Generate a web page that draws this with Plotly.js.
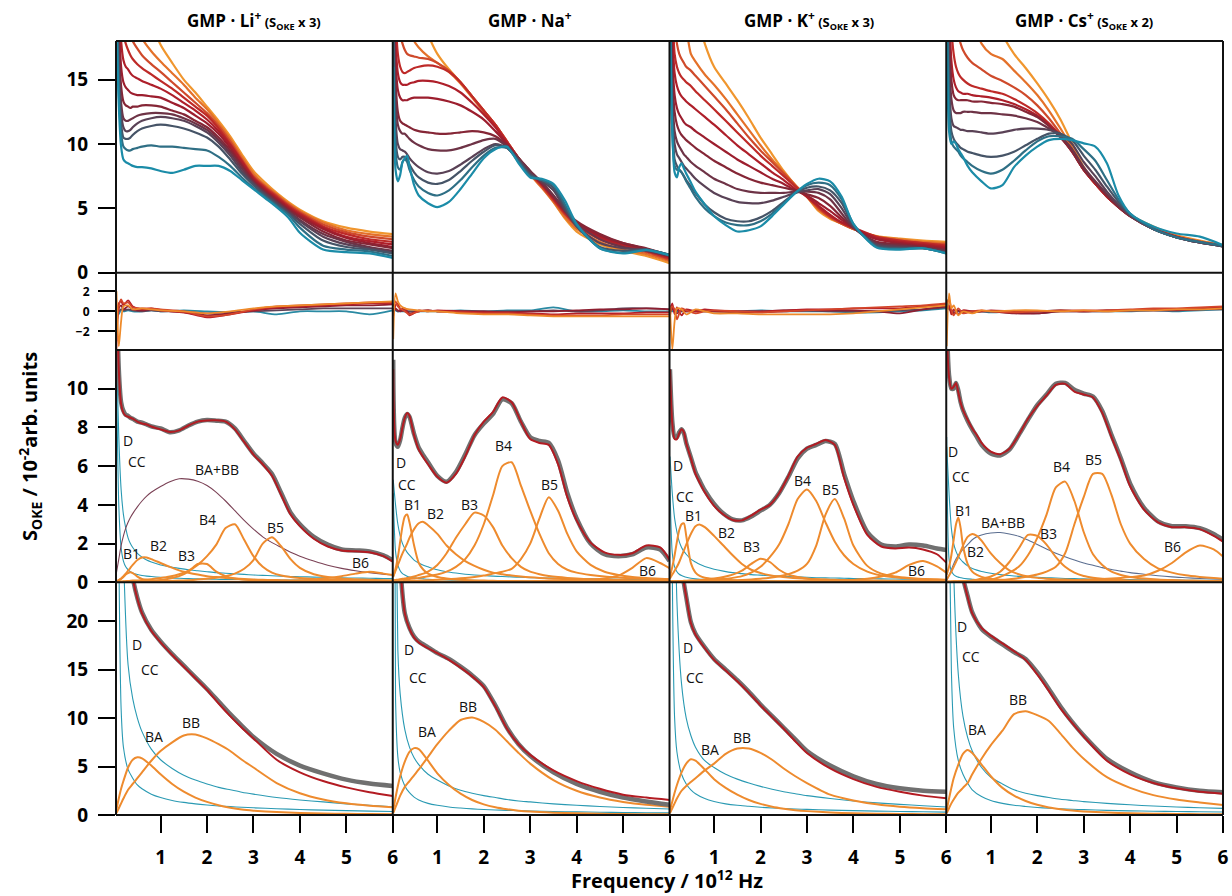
<!DOCTYPE html>
<html><head><meta charset="utf-8">
<script src="https://cdn.plot.ly/plotly-3.0.1.min.js"></script>
<style>html,body{margin:0;padding:0;background:#fff}#chart{width:1232px;height:896px}</style>
</head><body><div id="chart"></div>
<script>
// ---------------- frequency grids (10^12 Hz) ----------------
const FREQ_TOP = [0.05,0.1,0.15,0.2,0.25,0.3,0.35,0.4,0.5,0.6,0.8,1.0,1.25,1.5,1.75,2.0,2.25,2.5,2.75,3.0,3.25,3.5,3.75,4.0,4.5,5.0,5.5,6.0];
const FREQ_RES = [0.05,0.1,0.15,0.2,0.3,0.4,0.6,0.8,1.0,1.5,2.0,2.5,3.0,3.5,4.0,4.5,5.0,5.5,6.0];
const FREQ_FIT = [0.05,0.1,0.15,0.2,0.25,0.3,0.35,0.4,0.5,0.6,0.7,0.8,1.0,1.2,1.4,1.6,1.8,2.0,2.2,2.4,2.6,2.8,3.0,3.2,3.4,3.6,3.8,4.0,4.3,4.6,4.9,5.2,5.5,5.8,6.0];
const FREQ_LOW = [0.05,0.1,0.15,0.2,0.3,0.4,0.5,0.6,0.8,1.0,1.25,1.5,1.75,2.0,2.25,2.5,2.75,3.0,3.5,4.0,4.5,5.0,5.5,6.0];

const PANEL_TITLES = [
  "GMP · Li<sup>+</sup><span style='font-size:13px'> (S<sub>OKE</sub> x 3)</span>",
  "GMP · Na<sup>+</sup>",
  "GMP · K<sup>+</sup><span style='font-size:13px'> (S<sub>OKE</sub> x 3)</span>",
  "GMP · Cs<sup>+</sup><span style='font-size:13px'> (S<sub>OKE</sub> x 2)</span>"
];
const X_TICKS = [1,2,3,4,5,6];
const Y_TICKS_TOP = [0,5,10,15];
const Y_TICKS_RES = [-2,0,2];
const Y_TICKS_FIT = [0,2,4,6,8,10];
const Y_TICKS_LOW = [0,5,10,15,20];

// ---------------- row 1: spectra series (orange -> teal) ----------------
const TOP_LI = [
[40,36,33,30,29,28,27,26,24,22,19.6,17.7,16.3,15.0,14.0,12.9,11.8,10.6,9.2,7.9,7.0,6.2,5.5,4.9,4.0,3.5,3.2,3.0],
[36,32,28,25,23.5,22,21,20.2,19.0,18.2,17.2,16.4,15.5,14.6,13.6,12.7,11.6,10.4,9.0,7.7,6.8,6.1,5.4,4.8,3.9,3.3,3.0,2.8],
[32,28,24,21,20,19.2,18.5,18.0,17.4,16.9,16.2,15.6,14.8,14.0,13.2,12.4,11.4,10.2,8.8,7.5,6.7,6.0,5.3,4.7,3.75,3.15,2.8,2.6],
[30,25,21,18.5,17.8,17.3,16.9,16.6,16.2,15.9,15.4,14.9,14.3,13.6,12.9,12.2,11.2,10.0,8.7,7.4,6.6,5.9,5.2,4.6,3.6,3.0,2.6,2.4],
[28,22,18,16.5,16.0,15.8,15.5,15.3,15.1,14.9,14.6,14.3,13.8,13.2,12.6,11.9,11.0,9.9,8.6,7.3,6.5,5.8,5.1,4.5,3.5,2.8,2.45,2.2],
[26,20,16,14.8,14.4,14.2,14.0,13.9,13.8,13.8,13.7,13.6,13.2,12.8,12.2,11.6,10.8,9.7,8.4,7.2,6.4,5.7,5.0,4.4,3.4,2.7,2.3,2.0],
[25,18,14.5,13.3,13.0,12.9,12.8,12.9,12.9,13.0,13.0,12.9,12.6,12.3,11.8,11.3,10.5,9.5,8.3,7.1,6.3,5.6,4.9,4.3,3.2,2.5,2.2,1.9],
[24,17,13.2,12.0,11.8,11.8,11.9,12.0,12.2,12.3,12.4,12.4,12.3,12.0,11.6,11.1,10.3,9.3,8.1,7.0,6.2,5.5,4.8,4.1,3.0,2.4,2.0,1.7],
[23,16,12.4,11.3,11.0,11.0,11.1,11.3,11.6,11.8,12.0,12.1,12.0,11.8,11.4,10.9,10.1,9.1,7.9,6.9,6.1,5.4,4.7,4.0,2.8,2.2,1.9,1.6],
[22,15,11.6,10.5,10.4,10.4,10.5,10.7,11.0,11.2,11.4,11.5,11.4,11.2,10.9,10.5,9.8,8.8,7.7,6.8,6.0,5.3,4.6,3.8,2.5,2.0,1.8,1.5],
[21,14,10.8,9.8,9.6,9.5,9.5,9.6,9.7,9.8,9.9,9.8,9.8,9.7,9.6,9.5,9.0,8.3,7.4,6.6,5.9,5.2,4.5,3.5,2.1,1.8,1.65,1.3],
[20,13,9.8,8.8,8.6,8.5,8.4,8.3,8.2,8.2,8.1,7.9,7.75,8.0,8.3,8.3,8.3,7.9,7.2,6.5,5.8,5.1,4.3,3.1,1.8,1.6,1.5,1.15]
];
const TOP_NA = [
[40,36,33,30,28,26.5,25,24,22,20.5,18.5,17.0,15.8,14.8,13.7,12.6,11.5,10.2,8.9,7.7,6.7,5.5,4.2,3.2,2.2,1.7,1.3,0.75],
[36,30,26,23,21.5,20.5,20,19.5,18.0,17.5,16.8,16.3,15.6,14.7,13.6,12.5,11.4,10.1,8.8,7.6,6.6,5.5,4.3,3.4,2.4,1.8,1.45,0.9],
[30,24,20,18.5,17.8,17.3,17.0,16.9,16.8,16.7,16.6,16.3,15.7,14.8,13.7,12.6,11.5,10.2,8.9,7.7,6.7,5.6,4.5,3.6,2.6,2.0,1.6,1.0],
[28,20,17,16.0,15.6,15.5,15.6,15.7,15.9,16.0,16.1,16.0,15.6,14.8,13.7,12.6,11.5,10.2,8.9,7.7,6.8,5.7,4.6,3.7,2.7,2.1,1.7,1.1],
[26,18,15.5,14.8,14.6,14.6,14.6,14.7,14.8,14.9,14.9,14.8,14.5,14.0,13.2,12.3,11.3,10.1,8.9,7.8,6.9,5.8,4.7,3.8,2.8,2.2,1.8,1.2],
[25,16.5,14.2,13.6,13.4,13.4,13.4,13.5,13.6,13.6,13.6,13.5,13.3,13.0,12.5,11.9,11.0,10.0,8.9,7.8,6.9,5.9,4.8,3.9,2.9,2.3,1.85,1.3],
[24,15,12.5,11.8,11.6,11.5,11.4,11.3,11.1,11.0,10.9,10.8,10.8,10.9,11.0,10.9,10.6,9.9,8.9,7.9,7.0,6.0,4.9,4.0,3.0,2.3,1.9,1.35],
[23,14,11.5,11.0,10.8,10.8,10.6,10.4,10.1,9.9,9.6,9.5,9.5,9.7,10.0,10.3,10.4,9.8,8.9,7.9,7.0,6.0,4.8,3.8,2.6,2.0,1.7,1.3],
[22,12,10.0,9.6,9.5,9.4,9.2,8.9,8.5,8.2,7.8,7.7,7.9,8.4,9.0,9.6,10.0,9.7,8.8,7.7,7.1,6.4,4.9,3.6,2.3,1.9,1.8,1.4],
[20,10.5,9.0,8.8,9.0,9.0,8.8,8.4,7.8,7.4,7.0,6.9,7.2,7.9,8.7,9.4,9.9,9.7,8.7,7.6,7.2,6.6,5.1,3.6,2.0,1.7,1.8,1.4],
[18,9.5,8.2,8.0,8.6,8.8,8.6,8.0,7.2,6.7,6.2,6.0,6.4,7.2,8.2,9.1,9.7,9.7,8.6,7.5,7.2,6.8,5.3,3.7,1.9,1.55,1.8,1.4],
[16,8.0,7.1,7.6,8.6,8.9,9.1,8.3,6.8,6.0,5.4,5.1,5.5,6.5,7.7,8.9,9.6,9.8,8.5,7.4,7.3,6.9,5.6,3.8,1.9,1.5,1.75,1.35]
];
const TOP_K = [
[40,36,33,30,28.5,27,25.5,24.5,22.5,20.5,17.8,16.0,14.7,13.4,12.0,10.5,9.2,7.9,6.8,5.9,4.8,4.2,3.8,3.4,2.85,2.65,2.5,2.4],
[36,30,26,23,21.5,20.5,19.7,19.0,17.0,16.4,15.4,14.6,13.5,12.3,11.1,9.9,8.8,7.8,6.8,5.9,4.9,4.3,3.8,3.4,2.8,2.6,2.4,2.3],
[32,24,19.5,17.8,17.0,16.6,16.3,16.0,15.7,15.3,14.5,13.7,12.7,11.6,10.5,9.5,8.6,7.7,6.8,5.9,5.0,4.3,3.8,3.4,2.8,2.5,2.3,2.2],
[30,21,17,16,15.5,15.2,15.0,14.8,14.5,14.1,13.4,12.7,11.8,10.9,10.0,9.1,8.3,7.5,6.7,5.9,5.1,4.4,3.9,3.5,2.8,2.5,2.3,2.1],
[28,19,15.5,14.5,14.0,13.7,13.5,13.3,13.0,12.7,12.1,11.5,10.7,9.9,9.2,8.5,7.8,7.2,6.5,5.9,5.2,4.5,3.9,3.5,2.7,2.4,2.2,2.0],
[26,17,13.8,12.8,12.3,12.0,11.7,11.5,11.3,11.0,10.5,10.0,9.4,8.8,8.3,7.8,7.3,6.9,6.4,6.0,5.4,4.8,4.1,3.5,2.6,2.3,2.1,1.9],
[25,15.5,12.5,11.5,11.0,10.7,10.5,10.3,10.0,9.7,9.2,8.7,8.2,7.7,7.3,7.0,6.8,6.6,6.4,6.1,5.8,5.2,4.3,3.5,2.4,2.2,2.0,1.8],
[24,14,11,10.2,9.8,9.5,9.2,9.0,8.6,8.3,7.8,7.3,6.9,6.5,6.3,6.2,6.2,6.2,6.3,6.3,6.2,5.7,4.6,3.5,2.3,2.1,1.95,1.7],
[23,13,10,9.2,8.9,8.6,8.3,8.1,7.7,7.3,6.7,6.2,5.8,5.5,5.4,5.4,5.6,5.9,6.2,6.4,6.5,6.1,5.0,3.6,2.2,2.0,1.9,1.6],
[22,12,8.8,8.3,8.0,7.8,7.5,7.2,6.7,6.2,5.3,4.7,4.2,4.0,4.0,4.3,4.8,5.5,6.2,6.6,6.7,6.4,5.4,3.7,2.1,1.9,1.9,1.55],
[21,11,8.3,8.0,8.0,7.8,7.5,7.1,6.5,5.9,5.0,4.4,3.9,3.7,3.7,4.0,4.6,5.4,6.2,6.8,7.0,6.8,5.7,3.8,2.0,1.85,1.9,1.5],
[20,11,7.8,7.4,8.2,8.5,8.1,7.7,7.0,6.3,5.3,4.4,3.7,3.2,3.3,3.6,4.4,5.3,6.2,6.9,7.3,7.1,5.9,3.8,1.95,1.8,1.9,1.5]
];
const TOP_CS = [
[40,38,36,34,32.5,31,30,29,27,25.5,23,20.5,18.5,17.0,15.9,14.7,13.4,11.9,10.05,8.2,6.9,6.0,5.25,4.5,3.6,2.9,2.5,2.15],
[36,33,30,28,26.5,25,24,23,21,19.8,17.8,17.0,16.6,15.7,14.8,13.8,12.6,11.2,9.7,8.1,6.9,6.0,5.2,4.5,3.5,2.85,2.45,2.15],
[32,28,24,21,19.5,18.5,17.8,17.3,16.7,16.3,15.8,15.3,14.9,14.4,13.8,13.0,12.0,10.8,9.5,8.0,6.9,5.9,5.1,4.4,3.5,2.8,2.4,2.1],
[30,24,19,17.0,16.0,15.5,15.2,15.0,14.7,14.5,14.3,14.1,13.9,13.5,13.0,12.4,11.6,10.6,9.4,8.0,6.9,5.9,5.1,4.4,3.4,2.8,2.4,2.1],
[28,21,16.5,15.0,14.4,14.1,14.0,13.9,13.9,13.8,13.7,13.6,13.4,13.1,12.7,12.2,11.5,10.6,9.4,8.0,6.9,5.9,5.1,4.4,3.4,2.8,2.35,2.1],
[27,19,15,13.8,13.5,13.4,13.4,13.4,13.4,13.3,13.3,13.2,13.1,12.9,12.5,12.1,11.4,10.5,9.4,8.0,7.0,6.0,5.1,4.4,3.4,2.75,2.35,2.05],
[26,17,13.5,12.6,12.4,12.4,12.4,12.5,12.5,12.5,12.4,12.4,12.3,12.2,12.0,11.7,11.2,10.6,9.6,8.2,7.1,6.1,5.2,4.4,3.4,2.75,2.35,2.05],
[25,15,12,11.4,11.3,11.2,11.1,11.1,11.0,11.0,10.9,10.8,10.9,11.1,11.2,11.2,11.1,10.8,10.0,8.6,7.5,6.3,5.3,4.5,3.4,2.75,2.35,2.05],
[24,14,11,10.4,10.1,9.9,9.7,9.6,9.4,9.3,9.1,9.0,9.1,9.4,9.9,10.4,10.8,10.8,10.3,9.1,8.0,6.7,5.5,4.5,3.4,2.75,2.35,2.05],
[23,13,10.2,9.8,9.6,9.4,9.1,8.9,8.6,8.3,7.9,7.7,8.0,8.7,9.5,10.2,10.6,10.6,10.4,9.6,8.7,7.2,5.7,4.6,3.4,2.75,2.4,2.1],
[22,11,10.0,10.2,10.0,9.6,9.3,9.0,8.3,7.8,7.1,6.55,6.8,8.2,9.1,9.8,10.3,10.4,10.3,10.05,9.8,8.5,6.0,4.6,3.6,3.05,2.8,2.15]
];

// ---------------- row 2: fit residuals ----------------
const RES_LI = [
[2.0,-3.5,-1.0,0.5,0.6,0.2,0.3,0.2,0.1,0.0,-0.2,0.0,0.3,0.5,0.6,0.7,0.8,0.9,1.0],
[-3.8,0.5,1.2,0.8,0.9,0.4,0.3,0.3,0.2,0.0,-0.5,-0.3,0.2,0.5,0.6,0.7,0.8,0.9,0.9],
[-3.0,0.8,1.0,0.6,1.1,0.5,0.2,0.3,0.1,-0.1,-0.6,-0.3,0.1,0.4,0.5,0.6,0.7,0.8,0.8],
[-1.5,0.3,0.6,0.2,0.5,0.2,0.1,0.2,0.1,-0.1,-0.4,-0.2,0.1,0.3,0.4,0.5,0.6,0.6,0.7],
[-0.5,0.0,0.2,0.1,0.2,0.1,0.0,0.1,0.0,0.0,-0.2,-0.1,0.0,0.1,0.2,0.3,0.3,0.3,0.3],
[0.3,-0.3,0.2,0.0,0.1,0.0,0.0,0.1,0.0,0.1,0.0,-0.1,0.0,-0.3,0.0,0.0,0.0,-0.3,0.1]
];
const RES_NA = [
[-2.8,1.8,1.0,0.6,0.3,0.2,0.1,0.0,0.0,-0.2,-0.3,-0.3,-0.4,-0.5,-0.5,-0.5,-0.5,-0.5,-0.5],
[0.5,1.0,0.5,0.3,0.0,-0.3,0.0,0.1,0.0,-0.1,-0.2,-0.2,-0.3,-0.4,-0.4,-0.4,-0.3,-0.3,-0.3],
[-0.5,0.6,0.8,0.2,0.3,-0.4,0.1,0.0,0.1,0.0,-0.1,-0.1,-0.2,-0.3,-0.2,-0.2,-0.2,-0.1,-0.1],
[0.2,0.3,0.1,0.0,0.2,-0.2,0.0,0.1,0.0,0.0,0.0,-0.1,0.0,0.0,0.1,0.2,0.2,0.3,0.2],
[0.0,0.2,0.0,0.1,0.0,0.0,0.0,0.1,0.0,0.0,0.0,0.0,0.0,0.1,0.0,0.1,0.3,0.3,0.2],
[0.1,0.1,0.0,0.0,0.0,0.0,0.0,0.0,0.0,0.1,0.0,0.1,0.1,0.4,0.0,0.0,0.1,0.0,0.0]
];
const RES_K = [
[0.5,-3.8,-1.0,0.3,0.2,-0.3,0.2,0.0,-0.2,-0.2,-0.3,-0.3,-0.3,-0.3,-0.2,0.0,0.2,0.4,0.6],
[-0.5,0.5,0.2,-0.8,0.3,0.1,-0.2,0.0,0.1,0.0,-0.1,0.0,0.1,0.2,0.3,0.4,0.5,0.6,0.8],
[0.2,0.8,-0.3,0.4,-0.4,0.2,0.0,0.2,0.1,0.0,0.0,0.1,0.2,0.2,0.3,0.3,0.3,0.5,0.7],
[0.0,0.4,0.0,-0.2,0.1,0.0,0.1,0.0,0.0,-0.1,-0.1,0.0,0.1,0.1,0.1,0.0,-0.2,0.2,0.5],
[0.1,0.2,0.0,0.1,0.0,0.0,0.0,0.1,0.0,0.0,0.0,0.1,0.1,0.0,0.0,0.0,0.1,0.2,0.4],
[0.1,0.0,0.1,0.0,0.0,0.1,0.0,0.0,0.0,0.0,0.1,0.0,0.0,0.0,-0.1,-0.1,0.0,0.1,0.3]
];
const RES_CS = [
[-3.5,1.8,0.3,0.6,-0.4,0.0,-0.2,0.1,0.0,0.1,0.1,0.0,0.1,0.0,0.1,0.1,0.2,0.2,0.3],
[0.8,1.2,0.2,-0.4,0.3,-0.2,0.0,0.1,0.0,-0.1,0.0,0.1,0.1,0.1,0.2,0.3,0.3,0.4,0.5],
[0.2,0.6,-0.3,0.2,-0.3,0.1,0.0,0.0,0.1,0.0,0.0,0.1,0.0,0.1,0.1,0.2,0.2,0.3,0.4],
[0.3,0.4,0.0,-0.2,0.1,-0.1,0.0,0.0,0.0,-0.2,-0.2,0.0,0.0,0.0,0.1,0.1,0.1,0.2,0.3],
[0.5,0.3,0.1,-0.1,0.0,0.0,-0.1,0.0,0.0,-0.1,-0.2,0.0,0.0,0.1,0.1,0.1,0.1,0.2,0.2],
[1.2,0.2,0.1,-0.2,0.0,0.0,0.0,0.0,-0.1,0.0,0.0,0.1,0.0,0.0,0.0,0.1,0.0,0.1,0.2]
];

// ---------------- row 3: reduced spectra fits ----------------
const LI_DATA = [16,11,9.3,8.85,8.65,8.6,8.5,8.45,8.3,8.25,8.15,8.05,7.95,7.75,7.85,8.1,8.3,8.38,8.35,8.3,7.95,7.3,6.65,6.15,5.6,4.6,3.6,3.0,2.35,1.95,1.7,1.65,1.6,1.4,1.15];
const LI_FIT = [16,11,9.2,8.75,8.6,8.55,8.5,8.45,8.3,8.2,8.15,8.05,7.9,7.77,7.85,8.1,8.3,8.36,8.37,8.3,7.9,7.25,6.6,6.1,5.5,4.5,3.5,2.9,2.25,1.85,1.65,1.6,1.55,1.35,1.07];
const LI_D = [11,4.0,1.8,1.1,0.8,0.65,0.55,0.48,0.4,0.35,0.32,0.3,0.26,0.23,0.21,0.19,0.18,0.17,0.16,0.15,0.15,0.14,0.14,0.13,0.13,0.12,0.12,0.12,0.11,0.11,0.11,0.1,0.1,0.1,0.1];
const LI_CC = [12,7.5,4.8,3.5,2.8,2.3,2.0,1.8,1.5,1.3,1.15,1.05,0.9,0.8,0.72,0.65,0.6,0.55,0.5,0.47,0.44,0.41,0.38,0.36,0.34,0.32,0.3,0.29,0.27,0.25,0.23,0.22,0.21,0.2,0.19];
const LI_BAB = [0.5,1.2,1.9,2.4,2.8,3.1,3.35,3.55,3.9,4.2,4.45,4.65,4.95,5.2,5.35,5.33,5.22,5.0,4.65,4.2,3.7,3.2,2.75,2.35,2.05,1.8,1.55,1.35,1.1,0.88,0.72,0.6,0.5,0.42,0.38];
const LI_B1 = [0.05,0.1,0.18,0.28,0.4,0.48,0.52,0.48,0.3,0.18,0.12,0.08,0.05,0.04,0.03,0.03,0.02,0.02,0.02,0.02,0.02,0.01,0.01,0.01,0.01,0.01,0.01,0.01,0.01,0.01,0.01,0.01,0.01,0.01,0.01];
const LI_B2 = [0.05,0.12,0.2,0.32,0.45,0.6,0.75,0.9,1.15,1.28,1.28,1.2,1.0,0.8,0.62,0.5,0.4,0.32,0.27,0.23,0.2,0.17,0.15,0.13,0.12,0.11,0.1,0.09,0.08,0.07,0.06,0.06,0.05,0.05,0.05];
const LI_B3 = [0.02,0.02,0.03,0.03,0.04,0.04,0.05,0.05,0.06,0.07,0.08,0.09,0.12,0.2,0.32,0.55,0.95,0.95,0.55,0.32,0.2,0.14,0.1,0.08,0.07,0.06,0.05,0.05,0.04,0.04,0.03,0.03,0.03,0.03,0.03];
const LI_B4 = [0.02,0.03,0.04,0.05,0.06,0.07,0.08,0.09,0.1,0.12,0.14,0.16,0.22,0.3,0.42,0.6,0.9,1.35,1.95,2.8,3.0,2.2,1.35,0.8,0.5,0.35,0.27,0.22,0.17,0.14,0.12,0.1,0.09,0.08,0.07];
const LI_B5 = [0.01,0.01,0.02,0.02,0.02,0.02,0.03,0.03,0.03,0.04,0.04,0.05,0.06,0.07,0.09,0.11,0.14,0.18,0.24,0.32,0.45,0.7,1.15,2.0,2.33,1.85,1.2,0.75,0.42,0.28,0.2,0.16,0.13,0.11,0.1];
const LI_B6 = [0.01,0.01,0.01,0.01,0.01,0.01,0.01,0.01,0.01,0.01,0.01,0.01,0.02,0.02,0.02,0.02,0.02,0.03,0.03,0.03,0.03,0.04,0.04,0.05,0.05,0.06,0.07,0.09,0.15,0.22,0.32,0.45,0.55,0.45,0.38];

const NA_DATA = [11.5,7.2,7.0,7.35,8.0,8.5,8.7,8.55,7.65,6.95,6.55,6.2,5.5,5.2,5.7,6.6,7.6,8.2,8.7,9.45,9.25,8.3,7.5,7.3,7.2,6.3,4.6,3.3,2.0,1.45,1.35,1.45,1.8,1.7,1.1];
const NA_FIT = [11,7.3,7.1,7.4,8.0,8.5,8.75,8.6,7.6,6.85,6.45,6.1,5.45,5.15,5.6,6.5,7.6,8.3,8.8,9.55,9.3,8.3,7.4,7.2,7.1,6.1,4.4,3.2,2.05,1.55,1.42,1.5,1.9,1.8,1.16];
const NA_D = [4.6,1.6,0.9,0.6,0.45,0.38,0.32,0.28,0.23,0.2,0.18,0.16,0.14,0.12,0.11,0.1,0.1,0.09,0.09,0.08,0.08,0.08,0.07,0.07,0.07,0.07,0.06,0.06,0.06,0.06,0.06,0.05,0.05,0.05,0.05];
const NA_CC = [5.3,4.0,3.0,2.4,2.0,1.75,1.55,1.4,1.15,1.0,0.88,0.8,0.65,0.55,0.48,0.42,0.38,0.35,0.32,0.3,0.28,0.26,0.24,0.23,0.22,0.21,0.2,0.19,0.18,0.17,0.16,0.15,0.14,0.14,0.13];
const NA_B1 = [0.3,0.7,1.3,2.1,2.9,3.4,3.5,3.1,1.9,1.0,0.65,0.45,0.28,0.2,0.15,0.12,0.1,0.09,0.08,0.07,0.07,0.06,0.06,0.05,0.05,0.05,0.05,0.04,0.04,0.04,0.04,0.04,0.03,0.03,0.03];
const NA_B2 = [0.3,0.6,0.9,1.2,1.5,1.75,2.0,2.3,2.75,3.05,3.12,2.95,2.5,1.9,1.45,1.1,0.85,0.65,0.5,0.42,0.35,0.3,0.26,0.23,0.2,0.18,0.16,0.15,0.13,0.12,0.11,0.1,0.09,0.08,0.08];
const NA_B3 = [0.1,0.12,0.14,0.16,0.18,0.2,0.22,0.25,0.3,0.38,0.45,0.55,0.9,1.5,2.3,3.0,3.6,3.45,2.85,1.9,1.25,0.8,0.55,0.42,0.33,0.27,0.23,0.2,0.16,0.14,0.12,0.1,0.09,0.08,0.08];
const NA_B4 = [0.1,0.11,0.12,0.13,0.14,0.15,0.16,0.17,0.2,0.23,0.27,0.31,0.4,0.55,0.8,1.2,1.9,3.0,4.5,6.0,6.2,5.0,3.7,2.5,1.5,0.95,0.65,0.5,0.38,0.3,0.25,0.21,0.18,0.16,0.15];
const NA_B5 = [0.05,0.05,0.06,0.06,0.06,0.07,0.07,0.07,0.08,0.09,0.1,0.11,0.13,0.16,0.19,0.23,0.28,0.35,0.45,0.55,0.7,1.2,2.0,3.3,4.4,3.7,2.5,1.6,0.9,0.55,0.38,0.28,0.22,0.18,0.16];
const NA_B6 = [0.02,0.02,0.02,0.02,0.02,0.02,0.02,0.02,0.02,0.02,0.02,0.02,0.03,0.03,0.03,0.03,0.04,0.04,0.04,0.05,0.05,0.06,0.06,0.07,0.08,0.09,0.1,0.11,0.14,0.2,0.35,0.75,1.25,1.0,0.73];

const K_DATA = [11,8.3,7.5,7.5,7.75,7.9,7.7,7.2,6.45,5.7,5.2,4.75,4.05,3.55,3.25,3.2,3.4,3.7,4.0,4.6,5.45,6.4,6.9,7.1,7.3,7.15,5.6,4.2,2.6,1.95,1.85,1.95,1.9,1.75,1.67];
const K_FIT = [11,8.2,7.4,7.4,7.7,7.9,7.75,7.2,6.4,5.6,5.1,4.65,3.95,3.5,3.22,3.2,3.45,3.75,4.0,4.6,5.5,6.5,6.95,7.15,7.35,7.1,5.4,4.0,2.45,1.85,1.75,1.8,1.7,1.45,1.02];
const K_D = [5.0,1.5,0.8,0.55,0.42,0.35,0.3,0.26,0.21,0.18,0.16,0.15,0.13,0.11,0.1,0.09,0.09,0.08,0.08,0.07,0.07,0.07,0.06,0.06,0.06,0.06,0.06,0.05,0.05,0.05,0.05,0.05,0.05,0.04,0.04];
const K_CC = [6.5,4.6,3.3,2.6,2.1,1.8,1.6,1.45,1.2,1.05,0.92,0.82,0.68,0.58,0.5,0.45,0.4,0.37,0.34,0.32,0.3,0.28,0.26,0.24,0.23,0.22,0.21,0.2,0.19,0.18,0.17,0.16,0.15,0.14,0.14];
const K_B1 = [0.3,0.8,1.4,2.1,2.7,3.0,3.05,2.4,1.0,0.5,0.32,0.24,0.17,0.13,0.11,0.09,0.08,0.07,0.06,0.06,0.05,0.05,0.05,0.04,0.04,0.04,0.04,0.04,0.03,0.03,0.03,0.03,0.03,0.03,0.03];
const K_B2 = [0.2,0.4,0.6,0.8,1.05,1.35,1.65,1.95,2.5,2.9,2.98,2.85,2.4,1.9,1.4,0.95,0.65,0.48,0.37,0.3,0.25,0.21,0.18,0.16,0.14,0.13,0.12,0.11,0.1,0.09,0.08,0.07,0.07,0.06,0.06];
const K_B3 = [0.05,0.05,0.06,0.06,0.07,0.07,0.08,0.08,0.09,0.1,0.12,0.14,0.2,0.28,0.4,0.6,0.95,1.22,1.05,0.65,0.4,0.28,0.2,0.16,0.13,0.11,0.1,0.09,0.08,0.07,0.06,0.06,0.05,0.05,0.05];
const K_B4 = [0.05,0.05,0.05,0.06,0.06,0.06,0.07,0.07,0.08,0.09,0.1,0.11,0.14,0.18,0.23,0.32,0.5,0.8,1.3,1.95,3.0,4.3,4.8,4.2,3.1,2.1,1.4,0.95,0.55,0.35,0.26,0.2,0.17,0.14,0.13];
const K_B5 = [0.03,0.03,0.03,0.03,0.03,0.04,0.04,0.04,0.04,0.05,0.05,0.06,0.07,0.08,0.1,0.12,0.15,0.19,0.24,0.31,0.42,0.6,0.95,1.9,3.5,4.3,3.3,1.9,0.85,0.45,0.3,0.22,0.17,0.14,0.12];
const K_B6 = [0.02,0.02,0.02,0.02,0.02,0.02,0.02,0.02,0.02,0.02,0.02,0.02,0.03,0.03,0.03,0.03,0.04,0.04,0.04,0.05,0.05,0.06,0.06,0.07,0.08,0.09,0.1,0.12,0.18,0.3,0.5,0.9,1.1,0.82,0.5];

const CS_DATA = [13.5,10.7,10.0,10.0,10.3,9.9,9.3,8.9,8.35,7.9,7.5,7.1,6.65,6.55,6.85,7.6,8.4,9.15,9.7,10.25,10.3,9.95,9.75,9.6,8.85,7.6,6.4,5.1,3.85,3.15,2.9,2.9,2.8,2.5,2.2];
const CS_FIT = [13,10.6,10.0,10.1,10.3,9.8,9.27,8.9,8.4,7.95,7.6,7.2,6.75,6.62,6.9,7.6,8.45,9.1,9.65,10.2,10.25,9.85,9.7,9.55,8.75,7.5,6.3,4.96,3.75,3.1,2.85,2.85,2.75,2.4,2.1];
const CS_D = [7.5,1.2,0.6,0.4,0.32,0.27,0.24,0.21,0.18,0.16,0.14,0.13,0.11,0.1,0.09,0.08,0.08,0.07,0.07,0.06,0.06,0.06,0.06,0.05,0.05,0.05,0.05,0.05,0.05,0.04,0.04,0.04,0.04,0.04,0.04];
const CS_CC = [7.0,4.6,2.8,2.0,1.6,1.35,1.18,1.05,0.85,0.72,0.63,0.56,0.47,0.4,0.35,0.31,0.28,0.26,0.24,0.22,0.2,0.19,0.18,0.17,0.16,0.15,0.14,0.14,0.13,0.12,0.12,0.11,0.11,0.1,0.1];
const CS_BAB = [0.1,0.35,0.65,0.95,1.2,1.4,1.55,1.7,1.95,2.2,2.35,2.45,2.55,2.57,2.5,2.38,2.18,1.95,1.72,1.5,1.32,1.15,1.0,0.88,0.76,0.66,0.58,0.5,0.42,0.34,0.28,0.24,0.2,0.17,0.16];
const CS_B1 = [0.4,0.8,1.4,2.2,3.0,3.35,2.8,1.9,0.95,0.55,0.38,0.28,0.18,0.13,0.1,0.08,0.07,0.06,0.05,0.05,0.05,0.04,0.04,0.04,0.04,0.03,0.03,0.03,0.03,0.03,0.03,0.03,0.03,0.03,0.03];
const CS_B2 = [0.15,0.35,0.55,0.8,1.05,1.3,1.6,1.9,2.35,2.5,2.4,2.15,1.5,1.0,0.62,0.42,0.3,0.23,0.19,0.16,0.14,0.12,0.11,0.1,0.09,0.08,0.08,0.07,0.07,0.06,0.06,0.06,0.05,0.05,0.05];
const CS_B3 = [0.03,0.03,0.04,0.04,0.04,0.05,0.05,0.05,0.06,0.11,0.14,0.18,0.3,0.55,1.05,1.75,2.45,2.4,1.95,1.3,0.8,0.5,0.33,0.24,0.18,0.14,0.12,0.1,0.08,0.07,0.06,0.05,0.05,0.04,0.04];
const CS_B4 = [0.04,0.04,0.04,0.05,0.05,0.05,0.06,0.06,0.07,0.08,0.09,0.1,0.13,0.28,0.5,0.8,1.4,2.3,3.5,4.9,5.2,4.2,2.6,1.45,0.9,0.55,0.38,0.28,0.2,0.15,0.12,0.1,0.08,0.07,0.06];
const CS_B5 = [0.03,0.03,0.03,0.04,0.04,0.04,0.04,0.05,0.05,0.06,0.07,0.08,0.1,0.12,0.16,0.22,0.3,0.4,0.55,0.8,1.5,3.0,4.4,5.6,5.6,4.5,3.0,2.0,1.2,0.72,0.5,0.36,0.28,0.22,0.19];
const CS_B6 = [0.02,0.02,0.02,0.02,0.02,0.02,0.02,0.02,0.03,0.03,0.03,0.03,0.04,0.04,0.05,0.05,0.06,0.07,0.08,0.09,0.1,0.11,0.13,0.15,0.17,0.2,0.23,0.27,0.35,0.6,1.0,1.55,1.9,1.7,1.33];

// ---------------- row 4: low-frequency decomposition ----------------
const LI4_DATA = [60,50,42,36,29,24.5,22.4,20.9,19.1,17.9,16.6,15.4,14.2,13.0,11.7,10.4,9.2,8.05,6.3,5.1,4.3,3.65,3.25,3.0];
const LI4_FIT = [60,50,42,36,29,24.5,22.3,20.8,19.0,17.8,16.5,15.3,14.1,12.9,11.5,10.2,9.0,7.9,5.7,4.4,3.5,2.85,2.35,1.97];
const LI4_D = [80,28,11,7.0,4.7,3.8,3.1,2.7,2.15,1.8,1.5,1.3,1.15,1.03,0.93,0.86,0.8,0.74,0.65,0.57,0.5,0.45,0.4,0.36];
const LI4_CC = [80,60,40,27,15.5,12,10.0,8.6,6.8,5.7,4.8,4.1,3.6,3.2,2.85,2.6,2.35,2.15,1.8,1.55,1.35,1.15,1.0,0.85];
const LI4_BA = [0.6,1.7,2.7,3.5,4.9,5.7,5.95,5.85,5.1,4.2,3.2,2.4,1.8,1.35,1.0,0.75,0.56,0.45,0.3,0.2,0.15,0.12,0.1,0.08];
const LI4_BB = [0.2,0.7,1.2,1.7,2.6,3.2,3.8,4.4,5.6,6.6,7.5,8.2,8.3,7.9,7.3,6.6,5.7,4.9,3.3,2.25,1.6,1.2,0.95,0.8];

const NA4_DATA = [60,45,33,26,20.8,19.3,18.4,17.9,17.3,16.7,16.1,15.3,14.4,13.3,11.3,9.0,7.3,6.1,4.4,3.2,2.4,1.8,1.4,1.05];
const NA4_FIT = [60,45,33,26,20.8,19.2,18.3,17.8,17.2,16.7,16.0,15.2,14.3,13.2,11.2,8.9,7.3,6.2,4.6,3.5,2.7,2.1,1.8,1.55];
const NA4_D = [80,12,6,4.4,3.0,2.3,1.85,1.55,1.2,1.0,0.83,0.72,0.63,0.57,0.52,0.48,0.44,0.41,0.36,0.32,0.29,0.26,0.24,0.22];
const NA4_CC = [70,40,17,12.5,8.8,7.0,5.9,5.2,4.2,3.6,3.0,2.55,2.25,2.0,1.8,1.6,1.45,1.35,1.15,1.0,0.88,0.78,0.7,0.62];
const NA4_BA = [0.5,1.8,3.0,4.0,5.5,6.5,6.9,6.8,5.6,4.3,3.1,2.2,1.55,1.1,0.8,0.6,0.45,0.35,0.24,0.17,0.13,0.1,0.08,0.07];
const NA4_BB = [0.2,0.8,1.4,2.0,2.9,3.5,4.1,4.7,6.0,7.3,8.7,9.8,10.05,9.6,8.8,7.6,6.4,5.3,3.6,2.5,1.8,1.35,1.05,0.86];

const K4_DATA = [60,50,40,32,25.5,22.5,19.9,18.7,17.3,16.1,15.0,13.9,12.7,11.4,10.2,9.0,7.8,6.6,5.1,4.0,3.2,2.75,2.5,2.4];
const K4_FIT = [60,50,40,32,25.5,22.5,19.8,18.6,17.2,16.0,14.9,13.8,12.6,11.3,10.1,8.9,7.6,6.4,4.8,3.7,2.9,2.4,2.0,1.72];
const K4_D = [80,25,10,6.5,4.2,3.2,2.6,2.2,1.7,1.4,1.15,1.0,0.9,0.8,0.73,0.67,0.62,0.58,0.5,0.45,0.4,0.36,0.33,0.3];
const K4_CC = [80,55,35,22,13.5,10.0,8.2,7.0,5.6,4.9,4.2,3.7,3.3,2.95,2.65,2.4,2.2,2.0,1.7,1.45,1.25,1.1,0.95,0.82];
const K4_BA = [0.5,1.4,2.3,3.1,4.4,5.3,5.75,5.6,4.7,3.7,2.8,2.1,1.55,1.15,0.85,0.65,0.5,0.4,0.26,0.18,0.14,0.11,0.09,0.08];
const K4_BB = [0.2,0.7,1.2,1.7,2.5,3.0,3.4,3.8,4.6,5.3,6.3,6.85,6.85,6.4,5.7,4.8,4.0,3.3,2.1,1.5,1.1,0.85,0.7,0.6];

const CS4_DATA = [60,50,42,36,28.5,24.5,22.6,20.9,19.2,18.4,17.6,16.8,16.1,14.7,13.0,11.2,9.6,8.2,5.8,4.4,3.4,2.85,2.5,2.35];
const CS4_FIT = [60,50,42,36,28.5,24.5,22.5,20.8,19.3,18.5,17.7,16.9,16.0,14.5,12.8,11.0,9.5,8.1,5.6,4.2,3.3,2.75,2.4,2.2];
const CS4_D = [80,35,15,9.0,5.6,4.2,3.3,2.6,1.9,1.5,1.2,1.0,0.88,0.78,0.7,0.64,0.59,0.55,0.48,0.43,0.39,0.36,0.33,0.31];
const CS4_CC = [80,60,40,25,14.5,10.2,8.0,6.6,4.9,3.9,3.2,2.6,2.25,2.0,1.8,1.62,1.5,1.38,1.2,1.05,0.93,0.83,0.75,0.68];
const CS4_BA = [0.5,1.7,2.8,3.8,5.2,6.3,6.7,6.4,5.2,4.0,2.8,2.0,1.45,1.05,0.78,0.6,0.46,0.37,0.25,0.18,0.14,0.11,0.09,0.08];
const CS4_BB = [0.2,0.7,1.2,1.6,2.3,2.8,3.3,4.2,5.8,7.2,8.7,10.4,10.7,10.3,9.7,8.4,7.0,5.8,3.9,2.8,2.05,1.6,1.3,1.03];

// ---------------- styles ----------------
const TOP_PALETTE = ['#F0962E','#E4712A','#CF4A2B','#BE2A28','#AE1F2A','#9C1E2E','#852636','#6E3346','#5A4256','#465467','#2F6F85','#1B8CA8'];
const RES_COLORS = ['#EE8A2A','#D4452A','#B51F28','#8E1F30','#5E4357','#2A8AA3'];
const C_ORANGE = '#EE8B2E', C_TEAL = '#2A9AB3', C_GRAY = '#707070', C_RED = '#B31B22';
const FONT = 'Open Sans, Noto Sans, sans-serif';

const L = 116, R = 9, T = 41, B = 81, W = 1232, H = 896;
const PW = W - L - R, PH = H - T - B;
function P(px, py){ return {x:(px-L)/PW, y:(H-B-py)/PH}; }

const traces = [];
function ax(n, k){ return (n===1? k : k+n); }
function line(n, xs, ys, color, width){
  traces.push({type:'scatter', mode:'lines', x:xs, y:ys, xaxis:ax(n,'x'), yaxis:ax(n,'y'),
    line:{color:color, width:width, shape:'spline', smoothing:0.7}, hoverinfo:'skip', showlegend:false});
}

// Row 1
[TOP_LI, TOP_NA, TOP_K, TOP_CS].forEach((set, c) => {
  const n = set.length;
  set.forEach((ys, i) => {
    const col = TOP_PALETTE[Math.round(i*(TOP_PALETTE.length-1)/(n-1))];
    line(c+1, FREQ_TOP, ys, col, 2.2);
  });
});
// Row 2
[RES_LI, RES_NA, RES_K, RES_CS].forEach((set, c) => {
  for (let i=set.length-1; i>=0; i--) line(4+c+1, FREQ_RES, set[i], RES_COLORS[i], 1.8);
});
// Row 3
const FIT_SETS = [
  {data:LI_DATA, fit:LI_FIT, teal:[LI_D,LI_CC], bab:LI_BAB, babColor:'#7B4256', bands:[LI_B1,LI_B2,LI_B3,LI_B4,LI_B5,LI_B6]},
  {data:NA_DATA, fit:NA_FIT, teal:[NA_D,NA_CC], bab:null, bands:[NA_B1,NA_B2,NA_B3,NA_B4,NA_B5,NA_B6]},
  {data:K_DATA, fit:K_FIT, teal:[K_D,K_CC], bab:null, bands:[K_B1,K_B2,K_B3,K_B4,K_B5,K_B6]},
  {data:CS_DATA, fit:CS_FIT, teal:[CS_D,CS_CC], bab:CS_BAB, babColor:'#5B6E90', bands:[CS_B1,CS_B2,CS_B3,CS_B4,CS_B5,CS_B6]}
];
FIT_SETS.forEach((s, c) => {
  const n = 8+c+1;
  s.teal.forEach(ys => line(n, FREQ_FIT, ys, C_TEAL, 1.1));
  if (s.bab) line(n, FREQ_FIT, s.bab, s.babColor, 1.1);
  s.bands.forEach(ys => line(n, FREQ_FIT, ys, C_ORANGE, 2));
  line(n, FREQ_FIT, s.data, C_GRAY, 4.5);
  line(n, FREQ_FIT, s.fit, C_RED, 2);
});
// Row 4
const LOW_SETS = [
  [LI4_DATA, LI4_FIT, LI4_D, LI4_CC, LI4_BA, LI4_BB],
  [NA4_DATA, NA4_FIT, NA4_D, NA4_CC, NA4_BA, NA4_BB],
  [K4_DATA, K4_FIT, K4_D, K4_CC, K4_BA, K4_BB],
  [CS4_DATA, CS4_FIT, CS4_D, CS4_CC, CS4_BA, CS4_BB]
];
LOW_SETS.forEach((s, c) => {
  const n = 12+c+1;
  line(n, FREQ_LOW, s[2], C_TEAL, 1.1);
  line(n, FREQ_LOW, s[3], C_TEAL, 1.1);
  line(n, FREQ_LOW, s[4], C_ORANGE, 2);
  line(n, FREQ_LOW, s[5], C_ORANGE, 2);
  line(n, FREQ_LOW, s[0], C_GRAY, 4.5);
  line(n, FREQ_LOW, s[1], C_RED, 2);
});

// ---------------- layout ----------------
const rowDomains = [[0.7006,1],[0.6008,0.7006],[0.3006,0.6008],[0,0.3006]];
const rowRanges = [[0,18],[-3.87,3.87],[0,12],[0,24]];
const rowTicks = [Y_TICKS_TOP, Y_TICKS_RES, Y_TICKS_FIT, Y_TICKS_LOW];
const layout = {
  width:W, height:H, margin:{l:L, r:R, t:T, b:B}, paper_bgcolor:'#fff', plot_bgcolor:'#fff',
  showlegend:false, hovermode:false, font:{family:FONT, color:'#000'}, annotations:[], shapes:[]
};
for (let r=0; r<4; r++){
  for (let c=0; c<4; c++){
    const n = r*4+c+1;
    const xk = n===1?'xaxis':'xaxis'+n, yk = n===1?'yaxis':'yaxis'+n;
    const bottom = r===3, left = c===0;
    layout[xk] = {domain:[c/4,(c+1)/4], range:[0.04,6], anchor:ax(n,'y'),
      showline:false, showgrid:false, zeroline:false,
      ticks: bottom?'outside':'', ticklen:17, tickwidth:2, tickcolor:'#000',
      tickvals: X_TICKS, showticklabels: bottom, ticklabelstandoff:8,
      tickfont:{family:FONT, size:19, color:'#000', weight:700}};
    layout[yk] = {domain:rowDomains[r], range:rowRanges[r], anchor:ax(n,'x'),
      showline:false, showgrid:false, zeroline:false,
      ticks: left?'outside':'', ticklen:17, tickwidth:2, tickcolor:'#000',
      tickvals: rowTicks[r], showticklabels:left, ticklabelstandoff:6,
      tickfont:{family:FONT, size: r===1?12:19, color:'#000', weight:700}};
  }
}
// panel frames drawn once at each boundary
[0,0.25,0.5,0.75,1].forEach(x => layout.shapes.push({type:'line', xref:'paper', yref:'paper', x0:x, x1:x, y0:0, y1:1, line:{color:'#111', width:2}}));
[0,0.3006,0.6008,0.7006,1].forEach(y => layout.shapes.push({type:'line', xref:'paper', yref:'paper', x0:0, x1:1, y0:y, y1:y, line:{color:'#111', width:2}}));

// column titles
const titleX = [254, 530, 809, 1084];
PANEL_TITLES.forEach((t,i) => {
  const p = P(titleX[i], 20);
  layout.annotations.push({xref:'paper', yref:'paper', x:p.x, y:p.y, text:t, showarrow:false,
    xanchor:'center', yanchor:'middle', font:{family:FONT, size:17, color:'#000', weight:700}});
});
// axis titles
(function(){
  const p = P(30, 447);
  layout.annotations.push({xref:'paper', yref:'paper', x:p.x, y:p.y, textangle:-90,
    text:'S<sub>OKE</sub> / 10<sup>-2</sup>arb. units', showarrow:false, xanchor:'center', yanchor:'middle',
    font:{family:FONT, size:20, color:'#000', weight:700}});
  const q = P(667, 879);
  layout.annotations.push({xref:'paper', yref:'paper', x:q.x, y:q.y,
    text:'Frequency / 10<sup>12</sup> Hz', showarrow:false, xanchor:'center', yanchor:'middle',
    font:{family:FONT, size:20, color:'#000', weight:700}});
})();
// component labels (pixel positions)
const LABELS = [
  ['D',127.7,440],['CC',136.7,461.7],['BA+BB',216.7,469.3],['B4',207.3,519.3],['B5',275.3,527.7],['B1',131.7,553.3],['B2',158.3,545.7],['B3',186,555.7],['B6',360,562.7],
  ['D',400.7,462.3],['CC',406.7,484.3],['B1',412.7,504.3],['B2',435,513.3],['B3',469.3,504.3],['B4',503.3,445],['B5',549.3,484],['B6',647.3,570],
  ['D',678.3,465],['CC',685,496.7],['B1',693.3,515],['B2',726.7,532.7],['B3',751.7,546.7],['B4',802.7,480.7],['B5',830.7,489.3],['B6',916.7,570],
  ['D',952.7,451.7],['CC',961,476],['B1',963.3,510],['BA+BB',1002.7,522.7],['B2',975.7,551.7],['B3',1048.3,533.3],['B4',1061,466.7],['B5',1093.3,460],['B6',1172.3,546.7],
  ['D',137.3,644],['CC',150,669.3],['BA',154.3,736.7],['BB',191,722.7],
  ['D',409.3,649.3],['CC',417.7,677.3],['BA',426.7,731.7],['BB',468.3,706],
  ['D',688.3,647.7],['CC',695,677.3],['BA',710,749],['BB',741.7,737.3],
  ['D',961.7,626],['CC',971,656],['BA',977.3,729],['BB',1018.3,699]
];
LABELS.forEach(([t,px,py]) => {
  const p = P(px,py);
  layout.annotations.push({xref:'paper', yref:'paper', x:p.x, y:p.y, text:t, showarrow:false,
    xanchor:'center', yanchor:'middle', font:{family:FONT, size:14, color:'#111'}});
});

Plotly.newPlot('chart', traces, layout, {displayModeBar:false, staticPlot:true});
</script></body></html>
